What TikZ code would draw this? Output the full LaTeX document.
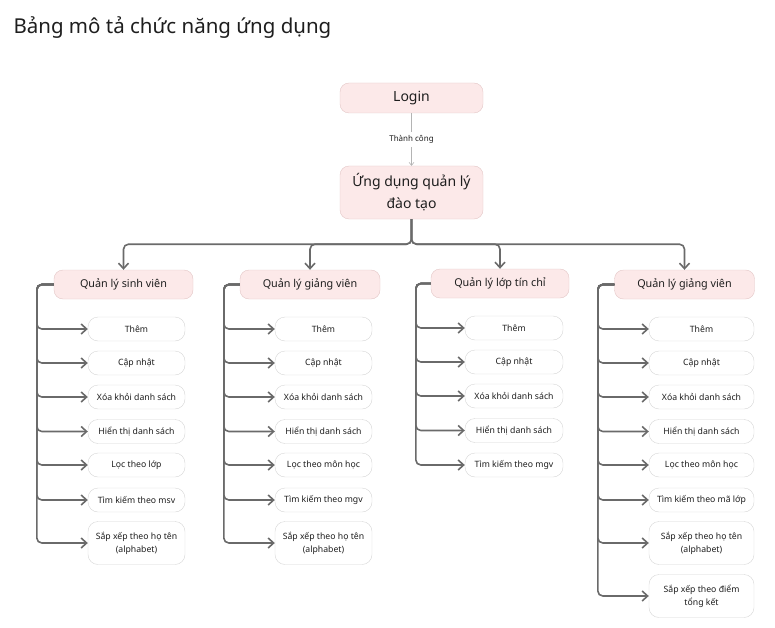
\documentclass[tikz,border=0pt]{standalone}
\usepackage{fontspec}
\setmainfont{Noto Sans}
\usetikzlibrary{arrows.meta,positioning}
\definecolor{hongnhat}{HTML}{FCE9E9}
\definecolor{hongvien}{HTML}{E3C6C6}
\definecolor{xamvien}{HTML}{D6D6D6}
\definecolor{xamnoi}{HTML}{6A6A6A}
\definecolor{xamnhat}{HTML}{B4B4B4}
\definecolor{chu}{HTML}{1E1E1E}

\begin{document}
\begin{tikzpicture}[x=1pt,y=-1pt,>={Straight Barb[length=5.5pt,width=10pt]},
  chucnang/.style={draw=hongvien,fill=hongnhat,rounded corners=9pt,minimum height=29pt,text=chu,font=\fontsize{10.8}{13}\selectfont},
  muc/.style={draw=xamvien,fill=white,rounded corners=10pt,minimum height=24pt,text=chu,align=center,font=\fontsize{8.7}{13}\selectfont},
  noi/.style={->,xamnoi,line width=1.6pt,rounded corners=5pt}]
  \useasboundingbox (0,0) rectangle (775,628);
  % tieu de
  \node[anchor=base west,font=\fontsize{20.5}{24}\selectfont,text=chu] (tieude) at (10,33.5) {Bảng mô tả chức năng ứng dụng};
  % dang nhap + ung dung
  \node[chucnang,minimum width=143pt,minimum height=30pt,font=\fontsize{14}{17}\selectfont] (login) at (411.5,98) {Login};
  \node[chucnang,minimum width=143pt,minimum height=53pt,align=center,font=\fontsize{14}{22}\selectfont] (ungdung) at (411.5,192.5) {Ứng dụng quản lý\\đào tạo};
  \draw[-{Straight Barb[length=3pt,width=5pt]},xamnhat,line width=0.6pt] (login) -- node[fill=white,text=chu,font=\fontsize{8}{10}\selectfont] {Thành công} (ungdung);
  % bon nhom chuc nang
  \node[chucnang,minimum width=139pt] (qlsv) at (123.5,284.5) {Quản lý sinh viên};
  \node[chucnang,minimum width=140pt] (qlgv) at (310,284.5) {Quản lý giảng viên};
  \node[chucnang,minimum width=138pt] (qlltc) at (500,283.5) {Quản lý lớp tín chỉ};
  \node[chucnang,minimum width=140pt] (qlgv2) at (684.5,284.5) {Quản lý giảng viên};
  \foreach \n in {qlsv,qlgv,qlltc,qlgv2} \draw[noi] (ungdung.south) -- ++(0,25) -| (\n.north);
  % cot 1: sinh vien
  \foreach \y/\h/\t [count=\i] in {329/24/Thêm, 363/24/Cập nhật, 397/24/Xóa khỏi danh sách, 431.5/24/Hiển thị danh sách, 465/24/Lọc theo lớp, 500/24/Tìm kiếm theo msv, 543/43/{Sắp xếp theo họ tên\\(alphabet)}}{
    \node[muc,minimum width=97pt,minimum height=\h pt] (sv\i) at (136.5,\y) {\t};
    \draw[noi] (qlsv.west) -- ++(-17,0) |- (sv\i.west);
  }
  % cot 2: giang vien
  \foreach \y/\h/\t [count=\i] in {329/24/Thêm, 363/24/Cập nhật, 397/24/Xóa khỏi danh sách, 431.5/24/Hiển thị danh sách, 465/24/Lọc theo môn học, 500/24/Tìm kiếm theo mgv, 543/43/{Sắp xếp theo họ tên\\(alphabet)}}{
    \node[muc,minimum width=97pt,minimum height=\h pt] (gv\i) at (323.5,\y) {\t};
    \draw[noi] (qlgv.west) -- ++(-16,0) |- (gv\i.west);
  }
  % cot 3: lop tin chi
  \foreach \y/\h/\t [count=\i] in {328/24/Thêm, 362/24/Cập nhật, 396/24/Xóa khỏi danh sách, 430.5/24/Hiển thị danh sách, 465/24/Tìm kiếm theo mgv}{
    \node[muc,minimum width=98pt,minimum height=\h pt] (ltc\i) at (514,\y) {\t};
    \draw[noi] (qlltc.west) -- ++(-15,0) |- (ltc\i.west);
  }
  % cot 4: giang vien (2)
  \foreach \y/\h/\t [count=\i] in {329/24/Thêm, 363/24/Cập nhật, 397/24/Xóa khỏi danh sách, 431.5/24/Hiển thị danh sách, 465/24/Lọc theo môn học, 500/24/Tìm kiếm theo mã lớp, 543/43/{Sắp xếp theo họ tên\\(alphabet)}, 596/43/{Sắp xếp theo điểm\\tổng kết}}{
    \node[muc,minimum width=105pt,minimum height=\h pt] (gvb\i) at (701.5,\y) {\t};
    \draw[noi] (qlgv2.west) -- ++(-16.5,0) |- (gvb\i.west);
  }
\end{tikzpicture}
\end{document}
